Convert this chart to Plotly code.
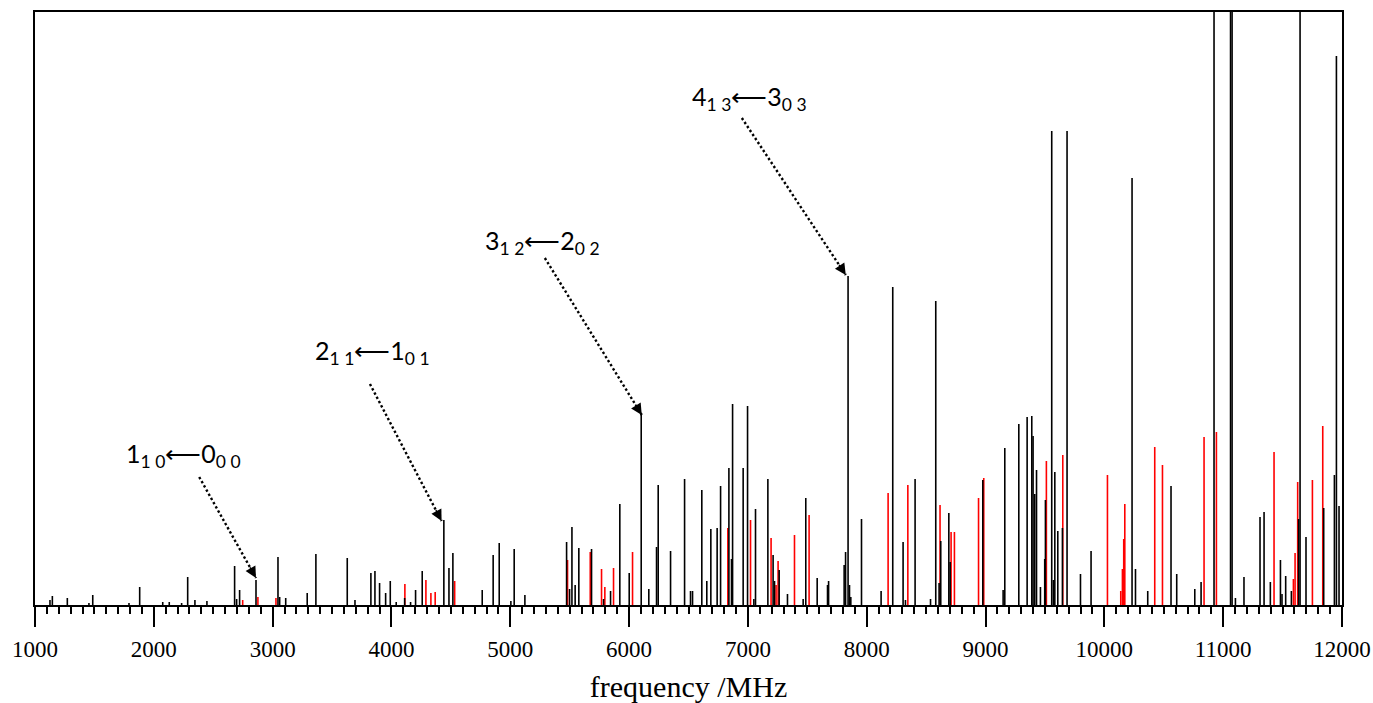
import plotly.graph_objects as go

# ---------------- data (frequency in MHz, relative intensity) ----------------
black_freq = [1126, 1146, 1272, 1454, 1486, 1791, 1881, 2075, 2130, 2234, 2285, 2346, 2447,
              2680, 2697, 2722, 2860, 3045, 3059, 3110, 3291, 3364, 3628, 3693, 3827, 3861,
              3900, 3951, 3990, 4040, 4111, 4161, 4203, 4259, 4441, 4484, 4517, 4764, 4856,
              4907, 5005, 5033, 5123, 5474, 5499, 5519, 5546, 5577, 5684, 5785, 5844, 5922,
              6001, 6102, 6166, 6231, 6245, 6349, 6467, 6517, 6534, 6612, 6654, 6688, 6741,
              6770, 6840, 6862, 6871, 6960, 6997, 7050, 7064, 7168, 7212, 7224, 7263, 7333,
              7465, 7487, 7583, 7670, 7679, 7810, 7822, 7843, 7855, 7866, 7956, 8121, 8219,
              8306, 8326, 8407, 8537, 8581, 8609, 8623, 8691, 8702, 8977, 9148, 9162, 9280,
              9350, 9389, 9400, 9414, 9429, 9462, 9498, 9504, 9557, 9571, 9583, 9608, 9647,
              9686, 9799, 9888, 10233, 10262, 10365, 10561, 10609, 10761, 10814, 10923, 11062,
              11075, 11103, 11175, 11310, 11344, 11397, 11482, 11495, 11526, 11574, 11635,
              11647, 11697, 11846, 11936, 11953, 11975]
black_int = [5, 9, 7, 2, 10, 2, 18, 3, 3, 2, 28, 5, 4,
             39, 6, 15, 25, 48, 8, 7, 12, 51, 47, 5, 32, 34,
             22, 12, 24, 3, 7, 3, 15, 34, 85, 37, 52, 15, 50,
             62, 4, 56, 10, 63, 16, 78, 20, 57, 56, 6, 14, 101,
             32, 191, 16, 58, 120, 54, 126, 14, 14, 115, 24, 76, 77,
             119, 137, 46, 201, 137, 199, 6, 96, 126, 50, 24, 35, 11,
             6, 107, 27, 20, 24, 40, 53, 329, 20, 8, 86, 14, 318,
             63, 5, 126, 6, 304, 22, 64, 92, 43, 125, 15, 157, 181,
             188, 189, 169, 111, 135, 18, 46, 105, 474, 25, 133, 74, 77,
             474, 31, 54, 427, 36, 14, 119, 31, 16, 23, 700, 720,
             680, 7, 28, 88, 93, 23, 45, 11, 29, 14, 86,
             650, 68, 97, 130, 549, 99]

red_freq = [2748, 2876, 3028, 4113, 4290, 4332, 4368, 4532, 5482, 5673, 5768, 5796, 5869,
            6029, 6831, 7022, 7195, 7237, 7254, 7392, 7515, 8180, 8346, 8617, 8710, 8738,
            8941, 8985, 9512, 9650, 10026, 10138, 10152, 10163, 10172, 10424, 10489, 10839,
            10943, 11428, 11591, 11605, 11627, 11751, 11838]
red_int = [5, 8, 7, 21, 25, 12, 13, 24, 45, 53, 36, 18, 37,
           53, 77, 85, 67, 20, 44, 70, 90, 112, 120, 100, 73, 73,
           107, 127, 144, 150, 130, 14, 36, 66, 101, 158, 140, 168,
           173, 153, 26, 52, 123, 125, 179]

tick_vals = [1000, 2000, 3000, 4000, 5000, 6000, 7000, 8000, 9000, 10000, 11000, 12000]
tick_text = [str(v) for v in tick_vals]

labels = ["1<sub>1 0</sub>⟵0<sub>0 0</sub>",
          "2<sub>1 1</sub>⟵1<sub>0 1</sub>",
          "3<sub>1 2</sub>⟵2<sub>0 2</sub>",
          "4<sub>1 3</sub>⟵3<sub>0 3</sub>"]


def sticks(freqs, ints):
    xs, ys = [], []
    for f, i in zip(freqs, ints):
        xs += [f, f, None]
        ys += [0, i, None]
    return xs, ys


fig = go.Figure()
bx, by = sticks(black_freq, black_int)
rx, ry = sticks(red_freq, red_int)
fig.add_trace(go.Scatter(x=rx, y=ry, mode="lines", line=dict(color="#ff0000", width=1.6),
                         hoverinfo="skip", showlegend=False))
fig.add_trace(go.Scatter(x=bx, y=by, mode="lines", line=dict(color="black", width=1.6),
                         hoverinfo="skip", showlegend=False))

# annotation layout: (text centre x, text centre y, tail x, tail y, tip x, tip y) in data units
ann_geom = [
    (2249, 150, 2382, 128, 2860, 27),
    (3840, 253, 3819, 221, 4422, 84),
    (5274, 363, 5291, 347, 6107, 190),
    (7012, 507, 6949, 487, 7824, 330),
]
px_per_mhz = 1307.3 / 11000.0
for lab, (tx, ty, x0, y0, x1, y1) in zip(labels, ann_geom):
    fig.add_annotation(x=tx, y=ty, text=lab, showarrow=False, xanchor="center", yanchor="middle",
                       font=dict(family="Lato", size=25, color="black"))
    fig.add_shape(type="line", x0=x0, y0=y0, x1=x1, y1=y1, xref="x", yref="y",
                  line=dict(color="black", width=2.4, dash="2.4px,2.4px"))
    dxp = (x1 - x0) * px_per_mhz
    dyp = (y1 - y0)
    L = (dxp ** 2 + dyp ** 2) ** 0.5
    fig.add_annotation(x=x1, y=y1, ax=-dxp / L * 14, ay=dyp / L * 14, axref="pixel", ayref="pixel",
                       text="", showarrow=True, arrowhead=2, arrowsize=1.6, arrowwidth=1.4,
                       arrowcolor="black")

serif = "Liberation Serif, Times New Roman, serif"
fig.update_layout(
    width=1373, height=703,
    margin=dict(l=35, r=31, t=12, b=98, autoexpand=False),
    paper_bgcolor="white", plot_bgcolor="white",
    showlegend=False,
    xaxis=dict(range=[1000, 12000], tickvals=tick_vals, ticktext=tick_text, automargin=False,
               ticks="outside", ticklen=20, tickwidth=1.5, tickcolor="black",
               minor=dict(dtick=100, ticks="outside", ticklen=7, tickwidth=1.5, tickcolor="black"),
               showline=True, linecolor="black", linewidth=1.5, mirror=True,
               showgrid=False, zeroline=False, ticklabelstandoff=3,
               tickfont=dict(family=serif, size=23, color="black"),
               title=dict(text="frequency /MHz", font=dict(family=serif, size=30, color="black"),
                          standoff=15)),
    yaxis=dict(range=[0, 593], showticklabels=False, ticks="", showgrid=False, zeroline=False,
               automargin=False,
               showline=True, linecolor="black", linewidth=1.5, mirror=True),
)

fig.write_html("out.html")
